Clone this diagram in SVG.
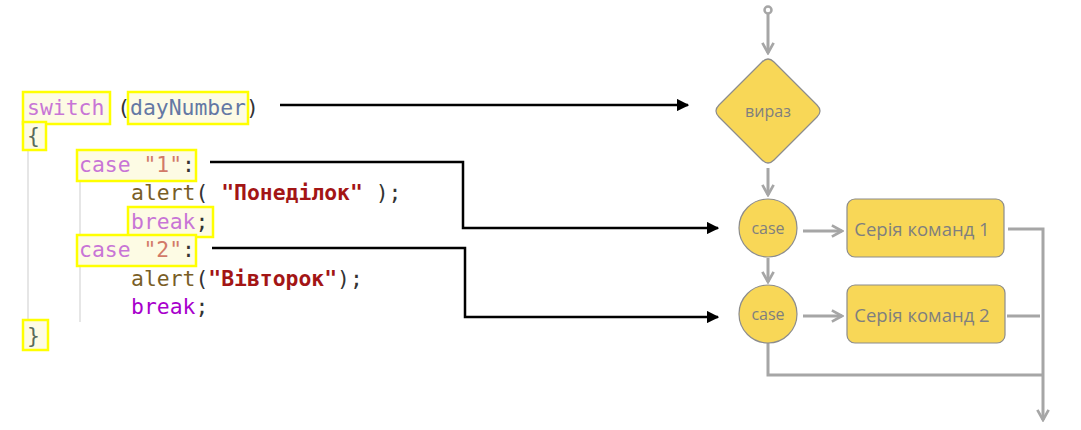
<svg xmlns="http://www.w3.org/2000/svg" width="1081" height="430" viewBox="0 0 1081 430">
<defs>
<style>
.code{font-family:"DejaVu Sans Mono","Liberation Mono",monospace;font-size:21.4px;fill:#333}
.kw{fill:#c875d6}
.kw2{fill:#a800cc}
.var{fill:#6478a4}
.str{fill:#d27a68}
.str2{fill:#a31515;font-weight:bold}
.fn{fill:#795e26}
.br{fill:#5a6b5a}
.hl{fill:#fdfbe4;stroke:#ffff00;stroke-width:2.5}
.guide{stroke:#d6d6d6;stroke-width:1.2}
.blk{stroke:#000;stroke-width:2.5;fill:none}
.gry{stroke:#a6a6a6;stroke-width:3;fill:none}
.shape{fill:#f8d757;stroke:#8c8c8c;stroke-width:1.2}
.lbl{font-family:"Open Sans","Liberation Sans",sans-serif;fill:#7f7f7f;text-anchor:middle}
</style>
<marker id="ab" viewBox="0 0 10 10" refX="9" refY="5" markerWidth="5" markerHeight="5" orient="auto" markerUnits="strokeWidth">
<path d="M0,0 L10,5 L0,10 z" fill="#000"/>
</marker>
<marker id="ag" viewBox="0 0 12 12" refX="10" refY="6" markerWidth="4.5" markerHeight="4.5" orient="auto" markerUnits="strokeWidth">
<path d="M1,1 L10,6 L1,11" fill="none" stroke="#a6a6a6" stroke-width="2.4"/>
</marker>
</defs>
<rect width="1081" height="430" fill="#fff"/>
<g id="code">
<line class="guide" x1="28" y1="150" x2="28" y2="320"/>
<line class="guide" x1="80" y1="180" x2="80" y2="322"/>
<rect class="hl" x="23" y="92" width="87" height="32"/>
<rect class="hl" x="128" y="92" width="120" height="32"/>
<rect class="hl" x="23" y="122" width="23" height="28"/>
<rect class="hl" x="77" y="150" width="119" height="31"/>
<rect class="hl" x="128" y="207" width="85" height="30"/>
<rect class="hl" x="77" y="235" width="119" height="31"/>
<rect class="hl" x="23" y="320" width="25" height="30"/>
<text class="code" xml:space="preserve" x="27" y="114.5"><tspan class="kw">switch</tspan> (<tspan class="var">dayNumber</tspan>)</text>
<text class="code br" x="27" y="143">{</text>
<text class="code" xml:space="preserve" x="79" y="171.5"><tspan class="kw">case</tspan> <tspan class="str">"1"</tspan>:</text>
<text class="code" xml:space="preserve" x="131" y="200"><tspan class="fn">alert</tspan>( <tspan class="str2">"Понеділок"</tspan> );</text>
<text class="code" xml:space="preserve" x="131" y="228.5"><tspan class="kw">break</tspan>;</text>
<text class="code" xml:space="preserve" x="79" y="257"><tspan class="kw">case</tspan> <tspan class="str">"2"</tspan>:</text>
<text class="code" xml:space="preserve" x="131" y="285.5"><tspan class="fn">alert</tspan>(<tspan class="str2">"Вівторок"</tspan>);</text>
<text class="code" xml:space="preserve" x="131" y="314"><tspan class="kw2">break</tspan>;</text>
<text class="code br" x="27" y="342.5">}</text>
</g>
<g id="connectors">
<path class="blk" d="M280,105 H688" marker-end="url(#ab)"/>
<path class="blk" d="M210,162 H463 V228 H718" marker-end="url(#ab)"/>
<path class="blk" d="M212,248 H465 V317 H718" marker-end="url(#ab)"/>
<circle cx="768" cy="10" r="3.5" fill="#fff" stroke="#a6a6a6" stroke-width="2.5"/>
<path class="gry" d="M768,14 V53" marker-end="url(#ag)"/>
<path class="gry" d="M768,168 V195" marker-end="url(#ag)"/>
<path class="gry" d="M768,258 V282" marker-end="url(#ag)"/>
<path class="gry" d="M803,231 H842" marker-end="url(#ag)"/>
<path class="gry" d="M803,316 H842" marker-end="url(#ag)"/>
<path class="gry" d="M1008,229 H1043 V420" marker-end="url(#ag)"/>
<path class="gry" d="M1007,316 H1040"/>
<path class="gry" d="M768,343 V375 H1043"/>
</g>
<g id="expr">
<path class="shape" d="M762,62 Q768,56 774,62 L817,105 Q823,111 817,117 L774,160 Q768,166 762,160 L719,117 Q713,111 719,105 Z"/>
<text class="lbl" x="768" y="117" font-size="16">вираз</text>
</g>
<g id="case1">
<circle class="shape" cx="768" cy="228" r="29"/>
<text class="lbl" x="768" y="234" font-size="16">case</text>
</g>
<g id="case2">
<circle class="shape" cx="768" cy="314" r="29"/>
<text class="lbl" x="768" y="320" font-size="16">case</text>
</g>
<g id="cmd1">
<rect class="shape" x="847" y="199" width="157" height="58" rx="8"/>
<text class="lbl" x="922" y="236" font-size="18.5">Серія команд 1</text>
</g>
<g id="cmd2">
<rect class="shape" x="847" y="285" width="158" height="58" rx="8"/>
<text class="lbl" x="922" y="322" font-size="18.5">Серія команд 2</text>
</g>
</svg>
